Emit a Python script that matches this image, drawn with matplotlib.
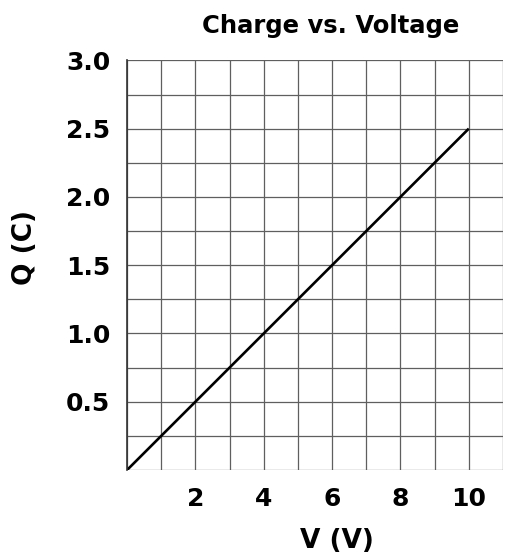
import matplotlib

matplotlib.use("Agg")
import matplotlib.pyplot as plt

# data: charge vs voltage, straight line through origin
voltage = [0, 10]
charge = [0, 2.5]
x_ticks = [2, 4, 6, 8, 10]
y_ticks = [0.5, 1.0, 1.5, 2.0, 2.5, 3.0]

plt.rcParams["font.family"] = ["DejaVu Sans"]

fig = plt.figure(figsize=(5.25, 5.54), dpi=100)
ax = fig.add_axes([0.242, 0.1516, 0.716, 0.7394])

ax.set_xlim(0, 11)
ax.set_ylim(0, 3)
ax.set_xticks(x_ticks)
ax.set_yticks(y_ticks)
ax.set_yticklabels([f"{v:.1f}" for v in y_ticks])
ax.set_xticks(range(0, 12), minor=True)
ax.set_yticks([i * 0.25 for i in range(13)], minor=True)
ax.grid(True, which="both", color="#5f5f5f", lw=0.9)
ax.tick_params(which="both", length=0, labelsize=18)
ax.tick_params(axis="x", pad=12)
ax.tick_params(axis="y", pad=12)
for lab in ax.get_xticklabels() + ax.get_yticklabels():
    lab.set_fontweight("bold")

for s in ("top", "right", "bottom"):
    ax.spines[s].set_visible(False)
ax.spines["left"].set_color("#333333")
ax.spines["left"].set_linewidth(1.2)

ax.plot(voltage, charge, color="black", lw=1.9, solid_capstyle="butt")

fig.text(0.642, 0.0108, "V (V)", ha="center", va="baseline",
         fontsize=19, fontweight="bold")
fig.text(0.048, 0.553, "Q (C)", ha="center", va="center", rotation=90,
         fontsize=19, fontweight="bold")
fig.text(0.629, 0.9404, "Charge vs. Voltage", ha="center", va="baseline",
         fontsize=17.5, fontweight="bold")

fig.savefig("out.png", dpi=100)
